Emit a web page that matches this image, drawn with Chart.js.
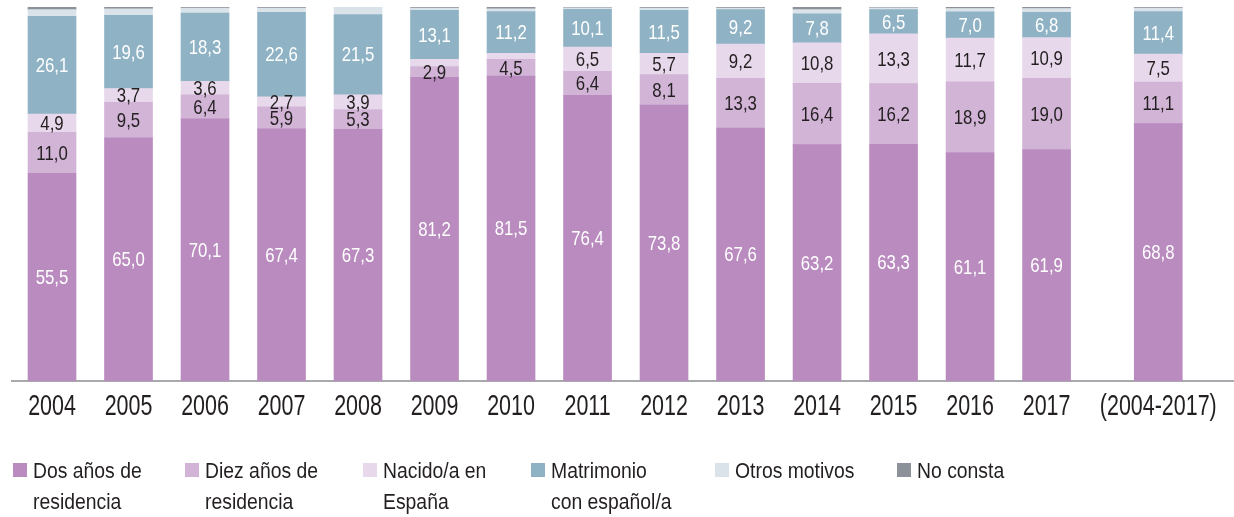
<!DOCTYPE html>
<html>
<head>
<meta charset="utf-8">
<script src="https://cdn.jsdelivr.net/npm/chart.js@4.4.1/dist/chart.umd.min.js"></script>
<style>
  html, body { margin: 0; padding: 0; background: #fff; }
  #wrap { width: 1234px; height: 517px; position: relative; }
</style>
</head>
<body>
<div id="wrap"><canvas id="barChart"></canvas></div>
<script>
const categories = ["2004", "2005", "2006", "2007", "2008", "2009", "2010", "2011", "2012", "2013", "2014", "2015", "2016", "2017", "(2004-2017)"];

const dosAnos    = [55.5, 65.0, 70.1, 67.4, 67.3, 81.2, 81.5, 76.4, 73.8, 67.6, 63.2, 63.3, 61.1, 61.9, 68.8];
const diezAnos   = [11.0, 9.5, 6.4, 5.9, 5.3, 2.9, 4.5, 6.4, 8.1, 13.3, 16.4, 16.2, 18.9, 19.0, 11.1];
const nacido     = [4.9, 3.7, 3.6, 2.7, 3.9, 1.9, 1.6, 6.5, 5.7, 9.2, 10.8, 13.3, 11.7, 10.9, 7.5];
const matrimonio = [26.1, 19.6, 18.3, 22.6, 21.5, 13.1, 11.2, 10.1, 11.5, 9.2, 7.8, 6.5, 7.0, 6.8, 11.4];
const otros      = [1.8, 1.7, 1.3, 1.1, 2.0, 0.6, 0.7, 0.4, 0.6, 0.4, 1.1, 0.5, 0.9, 1.0, 0.9];
const noConsta   = [0.7, 0.5, 0.3, 0.3, 0.0, 0.3, 0.5, 0.2, 0.3, 0.3, 0.7, 0.2, 0.4, 0.4, 0.3];

const seriesNames = [
  ["Dos años de", "residencia"],
  ["Diez años de", "residencia"],
  ["Nacido/a en", "España"],
  ["Matrimonio", "con español/a"],
  ["Otros motivos"],
  ["No consta"],
];

const FONT = '"Liberation Sans", Arial, sans-serif';
const colores = ["#b98bbf", "#d1b4d6", "#e7d9eb", "#8fb3c5", "#dae3ea", "#8d9199"];
const TXT = "#231f20";

// the total bar sits a bit apart from the yearly ones
const xSlot = categories.map((c, i) => (i < 14 ? i : 14.46));
const toPoints = (arr) => arr.map((v, i) => ({ x: xSlot[i], y: v }));

const series = [dosAnos, diezAnos, nacido, matrimonio, otros, noConsta];

// texto estrechado (no hay fuente condensada instalada)
function narrowText(ctx, text, x, y, sx, align) {
  ctx.save();
  ctx.translate(x, y);
  ctx.scale(sx, 1);
  ctx.textAlign = align;
  ctx.fillText(text, 0, 0);
  ctx.restore();
}

// etiquetas de valor dentro de las barras
const valueLabels = {
  id: "valueLabels",
  afterDatasetsDraw(chart) {
    const ctx = chart.ctx;
    ctx.save();
    ctx.font = "21px " + FONT;
    ctx.textBaseline = "middle";
    for (let d = 0; d < 4; d++) {
      const meta = chart.getDatasetMeta(d);
      meta.data.forEach((bar, i) => {
        const v = series[d][i];
        if (v < 2.5) return;
        ctx.fillStyle = d === 0 || d === 3 ? "#ffffff" : TXT;
        narrowText(ctx, v.toFixed(1).replace(".", ","), bar.x, (bar.y + bar.base) / 2 + 1, 0.8, "center");
      });
    }
    ctx.restore();
  },
};

// rótulos del eje x
const xLabels = {
  id: "xLabels",
  afterDraw(chart) {
    const ctx = chart.ctx;
    const sc = chart.scales.x;
    ctx.save();
    ctx.font = "29px " + FONT;
    ctx.fillStyle = TXT;
    ctx.textBaseline = "alphabetic";
    categories.forEach((c, i) => {
      narrowText(ctx, c, sc.getPixelForValue(xSlot[i]), 415, 0.74, "center");
    });
    ctx.restore();
  },
};

// leyenda a dos líneas abajo
const legendBottom = {
  id: "legendBottom",
  afterDraw(chart) {
    const ctx = chart.ctx;
    const xs = [13, 185, 363, 531, 715, 897];
    ctx.save();
    ctx.font = "22px " + FONT;
    ctx.textBaseline = "alphabetic";
    seriesNames.forEach((lines, k) => {
      ctx.fillStyle = colores[k];
      ctx.fillRect(xs[k], 463, 14, 14);
      ctx.fillStyle = TXT;
      lines.forEach((t, j) => narrowText(ctx, t, xs[k] + 20, 478 + j * 31, 0.88, "left"));
    });
    ctx.restore();
  },
};

let ctx = document.getElementById("barChart").getContext("2d");
let barChart = new Chart(ctx, {
  type: "bar",
  data: {
    datasets: series.map((arr, k) => ({
      label: seriesNames[k].join(" "),
      data: toPoints(arr),
      backgroundColor: colores[k],
      borderWidth: 0,
      barThickness: 48,
    })),
  },
  options: {
    responsive: true,
    maintainAspectRatio: false,
    animation: false,
    layout: { padding: { top: 7, left: 12, right: 0, bottom: 136 } },
    plugins: {
      legend: { display: false },
      tooltip: { enabled: false },
    },
    scales: {
      x: {
        type: "linear",
        stacked: true,
        offset: false,
        min: -0.523,
        max: 15.45,
        afterBuildTicks: (axis) => {
          axis.ticks = xSlot.map((v) => ({ value: v }));
        },
        grid: { display: false, drawTicks: false },
        border: { display: true, color: "#a7a9ac", width: 2 },
        ticks: { display: false },
      },
      y: {
        stacked: true,
        display: false,
        min: 0,
        max: 100,
      },
    },
  },
  plugins: [valueLabels, xLabels, legendBottom],
});
</script>
</body>
</html>
